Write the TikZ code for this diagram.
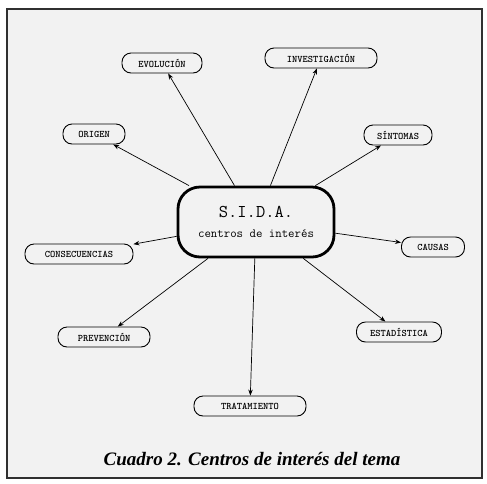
\documentclass[tikz,border=0pt]{standalone}
\usepackage{fontspec}
\newfontfamily\captionfont{Liberation Serif}
\usetikzlibrary{positioning, arrows.meta}
\definecolor{panelgray}{HTML}{F2F2F2}
\definecolor{framegray}{HTML}{303030}
\tikzset{
  tema/.style={draw, line width=0.9pt, rounded corners=9pt, minimum height=20pt,
    inner xsep=4pt, font=\fontsize{10}{11}\selectfont\ttfamily\bfseries},
  centro/.style={draw, line width=2.8pt, rounded corners=22pt, minimum width=156pt,
    minimum height=70pt, align=center, font=\fontsize{12.5}{13}\selectfont\ttfamily},
  flecha/.style={-{Stealth[length=6pt,width=4.5pt]}, line width=0.7pt}
}

\begin{document}
\begin{tikzpicture}[x=1pt,y=-1pt]
% page and frame
\useasboundingbox (0,0) rectangle (487,483);
\filldraw[fill=panelgray, draw=framegray, line width=1.6pt] (7,9) rectangle (482,478);
% central node
\node[centro] (sida) at (256,222) {{\fontsize{18}{20}\selectfont S.I.D.A.}\\[7pt] centros de interés};
% topics round it, each with its arrow
\foreach \nombre/\x/\y/\ancho/\texto in
{evo/162/63/80/EVOLUCIÓN, inv/321/58/112/INVESTIGACIÓN, ori/94/134/62/ORIGEN,
 sin/398/135/68/SÍNTOMAS, cons/79/254/108/CONSECUENCIAS, cau/433/247/63/CAUSAS,
 prev/104/337/92/PREVENCIÓN, est/399/332/85/ESTADÍSTICA, trat/250/406/112/TRATAMIENTO}
{
  \node[tema, minimum width=\ancho pt] (\nombre) at (\x,\y) {\texto};
  \draw[flecha] (sida) -- (\nombre);
}
% caption
\node[font=\captionfont\bfseries\itshape\fontsize{19}{22}\selectfont] (titulo) at (252,459)
  {Cuadro 2. Centros de interés del tema};
\end{tikzpicture}
\end{document}
